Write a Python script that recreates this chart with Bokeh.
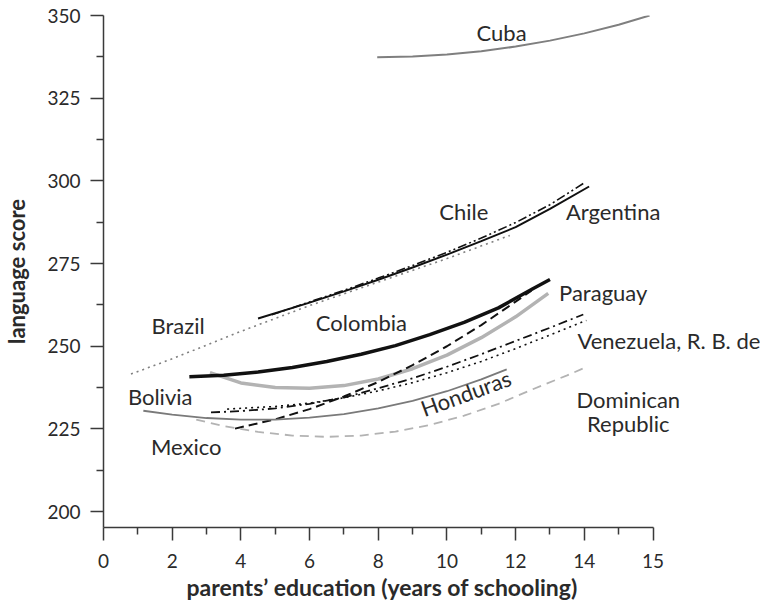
from bokeh.plotting import figure
from bokeh.models import Range1d, FixedTicker, Label, Title
from bokeh.embed import file_html
from bokeh.resources import INLINE
import math

# ---- data (x = parents' years of schooling on the plotted scale, y = language score) ----
cuba_x = [7.97, 9, 10, 11, 12, 13, 14, 15, 15.9]
cuba_y = [337.4, 337.6, 338.2, 339.2, 340.6, 342.4, 344.6, 347.2, 350.0]

argentina_x = [4.5, 6, 7, 8, 9, 10, 11, 12, 13, 14.14]
argentina_y = [258.4, 263.2, 266.6, 270.1, 273.8, 277.7, 281.8, 286.0, 291.5, 298.3]

chile_x = [4.9, 6, 7, 8, 9, 10, 11, 12, 13, 13.97]
chile_y = [259.5, 263.4, 266.9, 270.6, 274.4, 278.4, 282.7, 287.4, 292.8, 299.2]

brazil_x = [0.8, 2, 4, 6, 8, 10, 11.83]
brazil_y = [241.6, 246.2, 254.5, 262.3, 269.4, 276.5, 283.5]

colombia_x = [2.5, 3.5, 4.5, 5.5, 6.5, 7.5, 8.5, 9.5, 10.5, 11.5, 12.5, 13.0]
colombia_y = [240.8, 241.2, 242.2, 243.6, 245.4, 247.6, 250.2, 253.5, 257.2, 261.6, 267.4, 270.2]

paraguay_x = [3.1, 4, 5, 6, 7, 8, 9, 10, 11, 12, 12.95]
paraguay_y = [242.0, 238.9, 237.5, 237.3, 238.1, 240.1, 243.2, 247.3, 252.6, 258.9, 266.0]

dashed_x = [3.83, 5, 6, 7, 8, 9, 10, 11, 12, 12.46]
dashed_y = [225.1, 227.9, 231.0, 234.8, 239.2, 244.3, 250.0, 256.4, 263.5, 266.8]

venezuela_x = [3.13, 4, 5, 6, 7, 8, 9, 10, 11, 12, 13, 13.97]
venezuela_y = [230.0, 230.4, 231.2, 232.6, 234.5, 237.3, 240.3, 243.8, 247.6, 251.6, 255.6, 259.6]

dotted_x = [3.6, 5, 6, 7, 8, 9, 10, 11, 12, 13, 14.06]
dotted_y = [231.0, 231.8, 232.8, 234.4, 236.5, 239.0, 242.0, 245.4, 249.3, 253.4, 257.8]

bolivia_x = [1.16, 2, 3, 4, 5, 6, 7, 8, 9, 10, 11, 11.74]
bolivia_y = [230.5, 229.3, 228.3, 227.8, 227.8, 228.4, 229.5, 231.2, 233.5, 236.4, 240.0, 243.0]

dominican_x = [2.7, 3.5, 4.5, 5.5, 6.5, 7.5, 8.5, 9.5, 10.5, 11.5, 12.5, 13.5, 13.97]
dominican_y = [227.8, 225.9, 224.1, 223.0, 222.6, 223.0, 224.2, 226.2, 229.0, 232.6, 237.0, 241.2, 243.3]

x_ticks = [0, 2, 4, 6, 8, 10, 12, 14, 16]
x_tick_labels = ["0", "2", "4", "6", "8", "10", "12", "14", "15"]
x_minor = [1, 3, 5, 7, 9, 11, 13, 15]
y_ticks = [200, 225, 250, 275, 300, 325, 350]
y_minor = [212.5, 237.5, 262.5, 287.5, 312.5, 337.5]

label_text = ["Cuba", "Chile", "Argentina", "Paraguay", "Brazil", "Colombia",
              "Venezuela, R. B. de", "Bolivia", "Mexico", "Dominican", "Republic", "Honduras"]
label_x = [11.59, 10.49, 14.84, 14.55, 2.17, 7.51, 13.8, 1.65, 2.41, 15.28, 15.28, 10.55]
label_y = [344.9, 290.7, 290.7, 266.2, 256.3, 257.2, 251.7, 234.8, 219.7, 234.0, 226.6, 235.8]
label_align = ["center"] * 6 + ["left"] + ["center"] * 5
label_angle = [0] * 11 + [20]

FONT = "Lato"
TXT = "#2a2a2a"
AX = "#3a3a3a"

p = figure(width=760, height=602, output_backend="svg", toolbar_location=None,
           x_range=Range1d(0, 19.13), y_range=Range1d(195.2, 350),
           min_border_left=100, min_border_right=0, min_border_top=15, min_border_bottom=75)
p.outline_line_color = None
p.grid.visible = False
p.background_fill_color = "white"
p.border_fill_color = "white"

# lines
p.line(cuba_x, cuba_y, line_color="#7f7f7f", line_width=2)
p.line(brazil_x, brazil_y, line_color="#808080", line_width=1.6, line_dash="2 4")
p.line(argentina_x, argentina_y, line_color="#111111", line_width=2)
p.line(chile_x, chile_y, line_color="#111111", line_width=1.6, line_dash="9 3 2 3 2 3")
p.line(paraguay_x, paraguay_y, line_color="#b3b3b3", line_width=3.5)
p.line(colombia_x, colombia_y, line_color="#111111", line_width=3.5)
p.line(dashed_x, dashed_y, line_color="#111111", line_width=2, line_dash="9 5")
p.line(venezuela_x, venezuela_y, line_color="#111111", line_width=1.8, line_dash="9 4 2 4")
p.line(dotted_x, dotted_y, line_color="#111111", line_width=1.6, line_dash="2 4")
p.line(bolivia_x, bolivia_y, line_color="#7a7a7a", line_width=1.8)
p.line(dominican_x, dominican_y, line_color="#b3b3b3", line_width=1.8, line_dash="9 6")

for t, x, y, a, ang in zip(label_text, label_x, label_y, label_align, label_angle):
    p.add_layout(Label(x=x, y=y, text=t, text_align=a, text_baseline="middle",
                       angle=math.radians(ang), text_font=FONT, text_font_size="22px",
                       text_color=TXT))

# axis titles
p.yaxis.axis_label = "language score"
p.yaxis.axis_label_text_font = FONT
p.yaxis.axis_label_text_font_size = "22px"
p.yaxis.axis_label_text_font_style = "bold"
p.yaxis.axis_label_text_color = TXT
p.yaxis.axis_label_standoff = 14

p.add_layout(Title(text="parents\u2019 education (years of schooling)", align="left", offset=83,
                   text_font=FONT, text_font_size="23px", text_font_style="bold",
                   text_color=TXT, text_line_height=1.0, standoff=1), "below")

p.xaxis.ticker = FixedTicker(ticks=x_ticks, minor_ticks=x_minor)
p.xaxis.major_label_overrides = {t: s for t, s in zip(x_ticks, x_tick_labels)}
p.xaxis.bounds = (0, 16)
p.yaxis.ticker = FixedTicker(ticks=y_ticks, minor_ticks=y_minor)

for ax in (p.xaxis, p.yaxis):
    ax.axis_line_color = AX
    ax.axis_line_width = 1.5
    ax.major_tick_line_color = AX
    ax.major_tick_line_width = 1.5
    ax.minor_tick_line_color = AX
    ax.minor_tick_line_width = 1.5
    ax.major_tick_in = 0
    ax.major_tick_out = 13
    ax.minor_tick_in = 0
    ax.minor_tick_out = 7
    ax.major_label_text_font = FONT
    ax.major_label_text_font_size = "19px"
    ax.major_label_text_color = TXT
    ax.major_label_text_line_height = 1.0
p.xaxis.major_label_standoff = 13
p.yaxis.major_label_standoff = 10

open("out.html", "w").write(file_html(p, INLINE))
